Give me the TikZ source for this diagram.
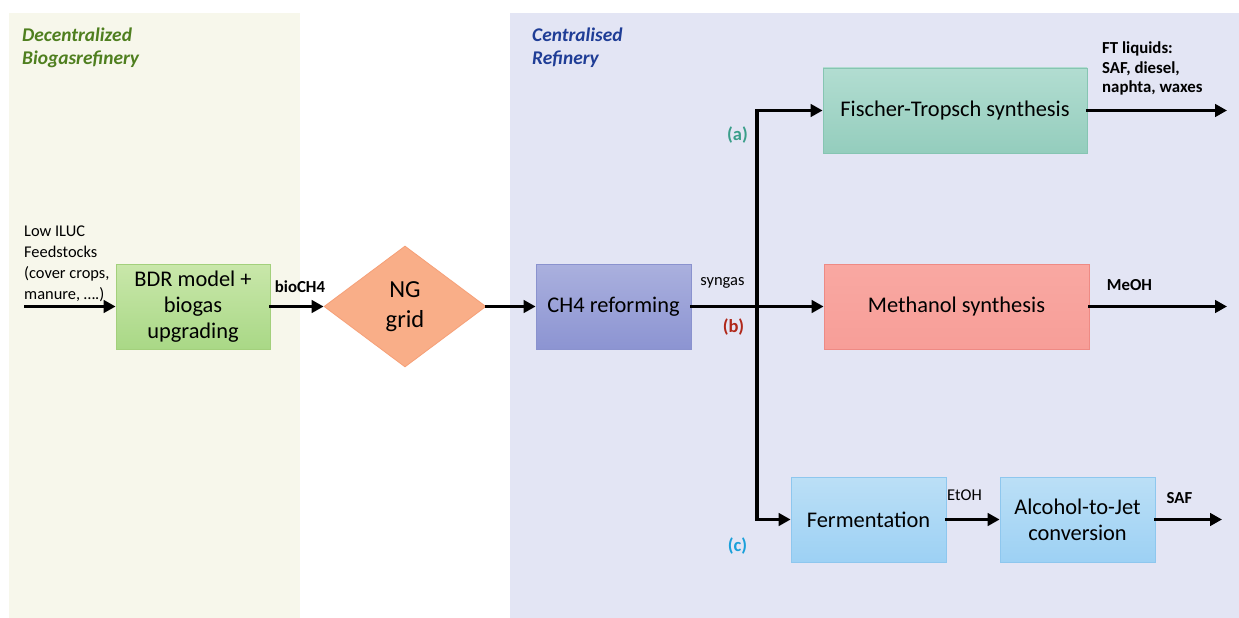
\documentclass[tikz,border=0pt]{standalone}
\usepackage{fontspec}
\setmainfont{Carlito}
\usetikzlibrary{shapes.geometric,arrows.meta}
\definecolor{leftbg}{HTML}{F7F7EB}
\definecolor{rightbg}{HTML}{E3E5F4}
\definecolor{greentxt}{HTML}{4F7F1F}
\definecolor{bluetxt}{HTML}{1F3D96}
\definecolor{bdrtop}{HTML}{C9E7AA}
\definecolor{bdrbot}{HTML}{A9D886}
\definecolor{bdrline}{HTML}{A3D07C}
\definecolor{ngfill}{HTML}{F9AE88}
\definecolor{ngline}{HTML}{F6A078}
\definecolor{chtop}{HTML}{AAB0DE}
\definecolor{chbot}{HTML}{8C94D2}
\definecolor{chline}{HTML}{8A92CE}
\definecolor{fttop}{HTML}{B2DDD1}
\definecolor{ftbot}{HTML}{94CDBD}
\definecolor{ftline}{HTML}{86C5B2}
\definecolor{metop}{HTML}{F9A8A2}
\definecolor{mebot}{HTML}{F79E98}
\definecolor{meline}{HTML}{EE8A84}
\definecolor{fetop}{HTML}{BBDFF6}
\definecolor{febot}{HTML}{9DD1F4}
\definecolor{feline}{HTML}{8EC7EE}
\definecolor{acol}{HTML}{3A9E8A}
\definecolor{bcol}{HTML}{B0281A}
\definecolor{ccol}{HTML}{1AA0DA}
\tikzset{
  procbox/.style={rectangle, draw, line width=0.8pt, minimum width=155pt, minimum height=85pt, inner sep=0pt, align=center, font=\fontsize{22.4}{26}\selectfont},
  conn/.style={line width=3.6pt, line cap=rect, -{Triangle[length=12pt,width=12.5pt]}},
  plainconn/.style={line width=3.6pt, line cap=rect},
  smalllbl/.style={inner sep=0pt, font=\fontsize{16.5}{19.5}\selectfont},
  boldlbl/.style={inner sep=0pt, font=\fontsize{16.8}{19.5}\selectfont\bfseries},
  regtitle/.style={inner sep=0pt, anchor=north west, align=left, font=\fontsize{19.4}{23}\selectfont\bfseries\itshape},
  branchlbl/.style={inner sep=0pt, font=\fontsize{18.5}{20}\selectfont\bfseries}
}
\begin{document}
\begin{tikzpicture}[x=1pt,y=-1pt]
\useasboundingbox (0,0) rectangle (1239,618);
\fill[white] (0,0) rectangle (1239,618);
% backgrounds
\fill[leftbg] (9,13) rectangle (300,618);
\fill[rightbg] (510,13) rectangle (1239,618);
\node[regtitle, text=greentxt] (ttlL) at (22,27.5) {Decentralized\\Biogasrefinery};
\node[regtitle, text=bluetxt] (ttlR) at (532,27.5) {Centralised\\Refinery};
% feedstock text
\node[inner sep=0pt, anchor=north west, align=left, font=\fontsize{16.4}{21}\selectfont] (feed) at (24,225.5) {Low ILUC\\Feedstocks\\(cover crops,\\manure, ….)};
\coordinate (inp) at (26,306.5);
% boxes
\node[procbox, draw=bdrline, top color=bdrtop, bottom color=bdrbot, minimum width=154pt] (bdr) at (193,306.5) {BDR model +\\biogas\\upgrading};
\node[diamond, draw=ngline, fill=ngfill, line width=0.8pt, minimum width=162pt, minimum height=121pt, inner sep=0pt, align=center, font=\fontsize{24.5}{30}\selectfont] (ng) at (405,306.5) {NG\\grid};
\node[procbox, draw=chline, top color=chtop, bottom color=chbot] (ch4) at (613.5,306.5) {CH4 reforming};
\node[procbox, draw=ftline, top color=fttop, bottom color=ftbot, minimum width=264pt] (ft) at (955,110.5) {Fischer-Tropsch synthesis};
\node[procbox, draw=meline, top color=metop, bottom color=mebot, minimum width=265pt] (me) at (956.5,306.5) {Methanol synthesis};
\node[procbox, draw=feline, top color=fetop, bottom color=febot] (fe) at (868.5,519.5) {Fermentation};
\node[procbox, draw=feline, top color=fetop, bottom color=febot] (atj) at (1077.5,519.5) {Alcohol-to-Jet\\conversion};
% junction coordinates
\coordinate (jt) at (757,110.5);
\coordinate (jb) at (757,519.5);
\coordinate (ftout) at (1227,110.5);
\coordinate (meout) at (1227,306.5);
\coordinate (safout) at (1222,519.5);
% connectors
\draw[conn] (inp) -- (bdr.west);
\draw[conn] (bdr.east) -- (ng.west);
\draw[conn] (ng.east) -- (ch4.west);
\draw[conn] (ch4.east) -- (me.west);
\draw[plainconn] (jt) -- (jb);
\draw[conn] (jt) -- (ft.west);
\draw[conn] (jb) -- (fe.west);
\draw[conn] (ft.east) -- (ftout);
\draw[conn] (me.east) -- (meout);
\draw[conn] (fe.east) -- (atj.west);
\draw[conn] (atj.east) -- (safout);
% labels
\node[boldlbl] (lbio) at (300,287) {bioCH4};
\node[smalllbl] (lsyn) at (722.5,283) {syngas};
\node[branchlbl, text=acol] (la) at (737.5,135.5) {(a)};
\node[branchlbl, text=bcol] (lb) at (733.5,327.5) {(b)};
\node[branchlbl, text=ccol] (lc) at (737.5,546) {(c)};
\node[boldlbl, anchor=north west, align=left] (lft) at (1102,42) {FT liquids:\\SAF, diesel,\\naphta, waxes};
\node[boldlbl] (lmeoh) at (1129.5,285) {MeOH};
\node[smalllbl] (letoh) at (964.5,495) {EtOH};
\node[boldlbl] (lsaf) at (1179.5,498.5) {SAF};
\end{tikzpicture}
\end{document}
